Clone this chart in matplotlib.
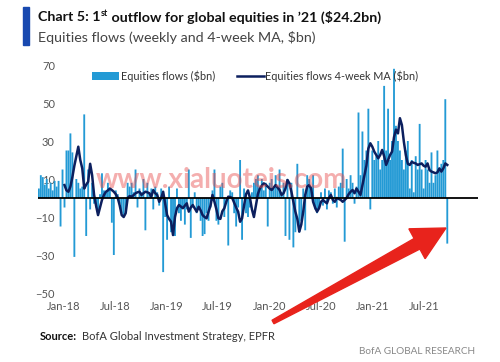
import pandas as pd
import matplotlib
matplotlib.use("Agg")
import matplotlib.pyplot as plt
from matplotlib import font_manager
from matplotlib.patches import Rectangle, Polygon
import numpy as np

avail = {f.name for f in font_manager.fontManager.ttflist}
FONT = "Liberation Sans Narrow" if "Liberation Sans Narrow" in avail else "Lato"
plt.rcParams["font.family"] = [FONT, "DejaVu Sans"]

# weekly equity flows, $bn, one value per week (Wednesdays)
week_start = "2017-10-04"
week_end = "2021-09-22"
flows = [
    5, 12, 11, 7, 10, 5, 8, 4, 9, 6, 9, -15, 15,
    -5, 25, 25, 34, 24, -31, 10, 8, 5, 6, 44, -20, 15,
    -6, 8, -3, -5, -6, 2, 13, 4, 3, 8, 5, -13, -30,
    4, 2, -3, -8, -9, -6, 8, 6, 8, 3, 15, -5, 5,
    3, 10, -17, 8, 3, 5, -6, 6, 3, -4, 5, -39, -10,
    -22, 6, -18, -15, -20, 5, -8, -12, -5, -14, -6, 15, -21,
    -5, 3, -8, -6, -12, -20, -19, -8, -12, -5, 4, 15, -12,
    -14, 6, 8, -10, -3, -25, 4, 3, -8, -15, -5, 20, -22,
    5, -8, -10, -5, 3, 8, 10, 12, 6, 10, 4, 8, -15,
    8, 10, 5, 12, 6, 15, 3, 8, -20, 10, -22, 8, -26,
    -18, 18, -18, -12, 5, -17, 12, 10, 6, 12, -6, -8, -5,
    3, -4, 5, -6, 4, 3, -3, 5, -5, 6, 8, 26, -23,
    10, 5, 12, 8, -3, 6, 45, 12, 35, 20, 25, 47, -6,
    25, 20, 22, 30, 15, 20, 59, 25, 47, 20, 30, 68, 38,
    30, 25, 20, 15, 25, 30, 5, 20, 3, 22, 15, 39, 15,
    5, 20, 15, 8, 24, 8, 12, 25, 15, 18, 20, 52, -24,
]

# 4-week moving average as drawn, $bn
ma_start = "2018-01-03"
ma_4wk = [
    6.8, 4, 3.3, 6, 11, 17, 22, 27, 20, 15.6, 5, 7, 8.6,
    18, 12, 1.6, -4, -9, -5, -1, 1.6, 3.3, 4, 5, 4.2, 3.3,
    2, 0, -4, -9, -10, -8, 0, 1, 0.7, 1.5, 2.5, 3, 3.3,
    1.6, 2.5, 3.3, 3, 2.5, 0.7, 4.2, 2.5, 1.6, -2, 0, 3.3, -2.8,
    -9, -11, -12.5, -19.5, -10, -5.4, -3.7, -4.5, -5.4, -4, -2.8, -7.2, -5,
    -3.7, -5.5, -7.2, -4.6, -6.5, -9, -10, -10.7, -7.2, -4, 1.6, -2, -6,
    -10.7, -11, -7, -5.4, -2, 0.7, 0.5, 0, -2.5, -5, -7.2, -12.5, -10.7,
    -4, 2, 4, 0, -6, -10, -4, 2, 5, 6.5, 7.7, 7, 6,
    5, 4.2, 5.5, 6.8, 5.5, 4.2, 1.6, 2.5, 5, 9.5, 7.7, 3.3, -2,
    -7.2, -11, -17.7, -14, -7.2, 1.6, 6, 6.8, 5, -2, -5, -7.2, -5.4,
    -2, -1, -2, -2.8, 0, 1.6, -1, -2, 0, -0.5, -1, -2, -1,
    0, 2, 3.3, 4.2, 2.5, 5, 3.3, 1.6, 6.8, 12, 17, 26, 28.8,
    27, 24.4, 22.6, 20.9, 22.6, 25.3, 22, 17.4, 20, 22.6, 24.4, 32, 36,
    34, 42, 38.4, 29.6, 22.6, 18, 17.4, 19, 18.5, 18.2, 17.4, 17.8, 18.2,
    17, 16.5, 18.2, 14.7, 13.9, 13.5, 13, 13.5, 15.6, 13.9, 15.6, 18.2, 17.4,
]

tick_dates = ["2018-01-01", "2018-07-01", "2019-01-01", "2019-07-01",
              "2020-01-01", "2020-07-01", "2021-01-01", "2021-07-01"]
tick_labels = ["Jan-18", "Jul-18", "Jan-19", "Jul-19",
               "Jan-20", "Jul-20", "Jan-21", "Jul-21"]
y_ticks = [70, 50, 30, 10, -10, -30, -50]

BAR = "#239ad5"
NAVY = "#0c1f5e"
GREY = "#555555"

weeks = pd.date_range(week_start, week_end, freq="W-WED")
ma_weeks = pd.date_range(ma_start, week_end, freq="W-WED")

W, H = 500, 362
fig = plt.figure(figsize=(W / 100, H / 100), dpi=100)
ax = fig.add_axes([38 / W, 1 - 293 / H, 440 / W, 228 / H])

bars = ax.bar(weeks, flows, width=6.6, color=BAR, linewidth=0, zorder=2)
for b in bars:
    b.set_snap(False)
line, = ax.plot(ma_weeks, ma_4wk, color=NAVY, lw=1.8, zorder=3)
ax.axhline(0, color="black", lw=1.3, zorder=4)

ax.set_xlim(pd.Timestamp("2017-10-01"), pd.Timestamp("2022-01-09"))
ax.set_ylim(-50, 70)
ax.set_xticks(pd.to_datetime(tick_dates))
ax.set_xticklabels(tick_labels)
ax.set_yticks(y_ticks)
ax.tick_params(axis="both", length=0, labelsize=8, colors=GREY)
ax.tick_params(axis="x", pad=6)
ax.tick_params(axis="y", pad=-12.2)
for s in ax.spines.values():
    s.set_visible(False)

leg = ax.legend([bars, line], ["Equities flows (\\$bn)", "Equities flows 4-week MA (\\$bn)"],
                ncol=2, loc="upper left", bbox_to_anchor=(92 / W, 1 - 70 / H),
                bbox_transform=fig.transFigure, frameon=False, fontsize=7.8,
                handlelength=2.5, handleheight=0.75, handletextpad=0.15,
                columnspacing=2.0, borderpad=0, borderaxespad=0)
for t in leg.get_texts():
    t.set_color("#333333")

# header
fig.add_artist(Rectangle((23 / W, 1 - 45 / H), 6 / W, 38 / H,
                         transform=fig.transFigure, color="#1849b0"))
fig.canvas.draw()
r = fig.canvas.get_renderer()
y_t = 1 - 17 / H
t1 = fig.text(38 / W, y_t, "Chart 5: 1", fontsize=10.3, weight="bold", va="center", color="#111111")
x = t1.get_window_extent(r).x1 / W
t2 = fig.text(x + 0.5 / W, y_t + 3 / H, "st", fontsize=6.4, weight="bold", va="center", color="#111111")
x = t2.get_window_extent(r).x1 / W
fig.text(x, y_t, " outflow for global equities in \u201921 (\\$24.2bn)", fontsize=10.3,
         weight="bold", va="center", color="#111111")
fig.text(38 / W, 1 - 38 / H, "Equities flows (weekly and 4-week MA, \\$bn)", fontsize=10.3,
         va="center", color="#444444")

# footer
s1 = fig.text(40 / W, 1 - 336 / H, "Source:", fontsize=8, weight="bold", va="center", color="#111111")
x = s1.get_window_extent(r).x1 / W
fig.text(x + 5 / W, 1 - 336 / H, "BofA Global Investment Strategy, EPFR", fontsize=8,
         va="center", color="#333333")
fig.text(475 / W, 1 - 351 / H, "BofA GLOBAL RESEARCH", fontsize=7.2, ha="right",
         va="center", color="#888888")

# watermark
fig.text(221 / W, 1 - 188 / H, "www.xialuoteis.com", fontsize=20, weight="bold",
         ha="center", va="baseline", color="#e84c4c", alpha=0.45, zorder=6)

# red arrow (pixel geometry, converted to inches)
tail = np.array([273.0, H - 322.0])
tip = np.array([446.0, H - 228.0])
u = (tip - tail) / np.linalg.norm(tip - tail)
n = np.array([-u[1], u[0]])
base = tip - u * 33
pts = [tail + n * 2, base + n * 6, base + n * 17, tip, base - n * 17, base - n * 6, tail - n * 2]
fig.add_artist(Polygon(np.array(pts) / 100, closed=True, transform=fig.dpi_scale_trans,
                       color="#e8231c", zorder=7))

fig.savefig("out.png", dpi=100)
